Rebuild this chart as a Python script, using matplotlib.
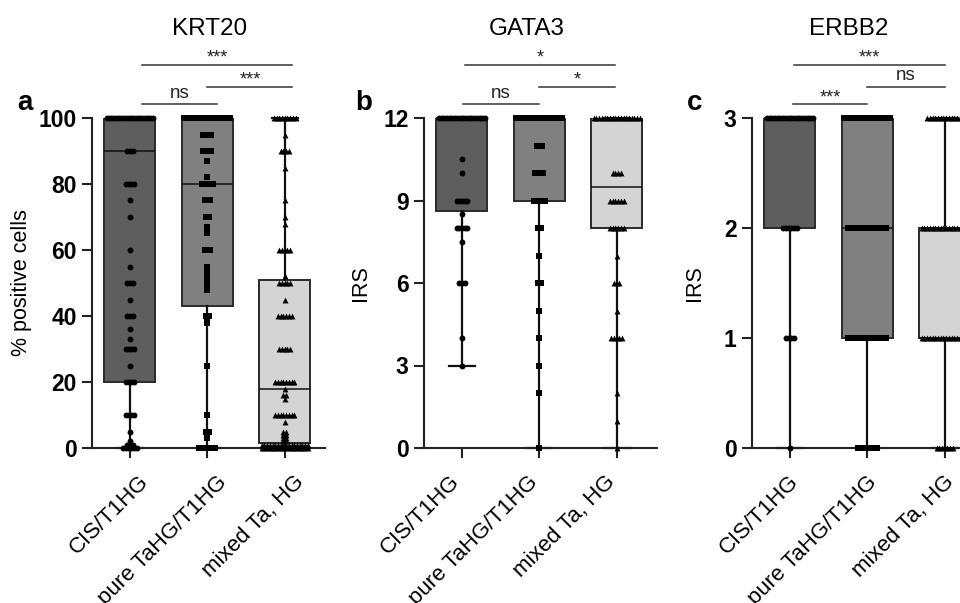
import numpy as np
import matplotlib
matplotlib.use("Agg")
import matplotlib.pyplot as plt
from matplotlib.transforms import ScaledTranslation

plt.rcParams['font.family'] = ['Liberation Sans', 'DejaVu Sans']

groups = ['CIS/T1HG', 'pure TaHG/T1HG', 'mixed Ta, HG']
box_colors = ['#5e5e5e', '#808080', '#d4d4d4']
markers = ['o', 's', '^']

# KRT20 - % positive cells
krt20_q1 = [20, 43, 1.5]
krt20_med = [90, 80, 18]
krt20_q3 = [100, 100, 51]
krt20_lo = [0, 0, 0]
krt20_hi = [100, 100, 100]
krt20_vals = [
    [100, 90, 80, 75, 70, 60, 55, 50, 45, 40, 36, 33, 30, 25, 20, 10, 5, 2, 1, 0],
    [100, 95, 90, 87, 82, 80, 75, 70, 67, 65, 60, 55, 53, 52, 51, 50, 49, 48,
     40, 39, 38, 25, 10, 5, 3, 0],
    [100, 95, 90, 85, 75, 70, 68, 60, 52, 50, 45, 40, 30, 20, 18, 16, 15, 10,
     8, 5, 4, 3, 2, 1, 0],
]
krt20_counts = [
    [18, 3, 4, 1, 1, 1, 1, 3, 1, 3, 1, 1, 4, 1, 4, 4, 1, 1, 3, 6],
    [18, 4, 4, 1, 1, 5, 3, 2, 1, 1, 3, 1, 1, 1, 1, 1, 1, 1, 2, 1, 1, 1, 1, 2, 1, 7],
    [9, 1, 4, 1, 1, 1, 1, 5, 1, 5, 1, 6, 5, 8, 1, 2, 1, 8, 1, 2, 2, 2, 2, 18, 18],
]

# GATA3 - IRS
gata3_q1 = [8.63, 9, 8]
gata3_med = [12, 12, 9.5]
gata3_q3 = [12, 12, 12]
gata3_lo = [3, 0, 0]
gata3_hi = [12, 12, 12]
gata3_vals = [
    [12, 10.5, 10, 9, 8.5, 8, 7.5, 6, 4, 3],
    [12, 11, 10, 9, 8, 7, 6, 5, 4, 3, 2, 0],
    [12, 10, 9, 8, 7, 6, 5, 4, 2, 1, 0],
]
gata3_counts = [
    [18, 1, 1, 5, 1, 5, 1, 3, 1, 1],
    [18, 3, 4, 5, 2, 1, 2, 1, 1, 1, 1, 1],
    [18, 4, 6, 6, 1, 3, 1, 5, 1, 1, 1],
]

# ERBB2 - IRS
erbb2_q1 = [2, 1, 1]
erbb2_med = [3, 2, 1]
erbb2_q3 = [3, 3, 2]
erbb2_lo = [0, 0, 0]
erbb2_hi = [3, 3, 3]
erbb2_vals = [[3, 2, 1, 0], [3, 2, 1, 0], [3, 2, 1, 0]]
erbb2_counts = [[18, 6, 4, 1], [18, 15, 15, 8], [14, 18, 18, 7]]

titles = ['KRT20', 'GATA3', 'ERBB2']
letters = ['a', 'b', 'c']
ylabels = ['% positive cells', 'IRS', 'IRS']
yticks = [[0, 20, 40, 60, 80, 100], [0, 3, 6, 9, 12], [0, 1, 2, 3]]

# significance: (x0, x1, level, text)
sig = [
    [(0.16, 1.13, 0, 'ns'), (1.0, 2.1, 1, '***'), (0.16, 2.1, 2, '***')],
    [(0.02, 0.99, 0, 'ns'), (1.0, 1.98, 1, '*'), (0.04, 1.98, 2, '*')],
    [(0.04, 1.0, 0, '***'), (1.0, 2.0, 1, 'ns'), (0.05, 2.0, 2, '***')],
]

panels = [
    (krt20_q1, krt20_med, krt20_q3, krt20_lo, krt20_hi, krt20_vals, krt20_counts),
    (gata3_q1, gata3_med, gata3_q3, gata3_lo, gata3_hi, gata3_vals, gata3_counts),
    (erbb2_q1, erbb2_med, erbb2_q3, erbb2_lo, erbb2_hi, erbb2_vals, erbb2_counts),
]

W, H = 960, 603
fig = plt.figure(figsize=(9.6, 6.03), dpi=100)

ax_left = [92, 424, 752]
ax_w, ax_top, ax_bot = 233, 118, 448
title_x = [210, 527, 849]
letter_x = [17, 355, 687]
ylabel_x = [22, 360, 695]
lab_dx = [16, -5, 6]   # px shift of rotated group labels
lab_dy = -31

for i, (q1, med, q3, lo, hi, vals, counts) in enumerate(panels):
    ax = fig.add_axes([ax_left[i] / W, 1 - ax_bot / H, ax_w / W, (ax_bot - ax_top) / H])
    stats = [dict(q1=q1[k], med=med[k], q3=q3[k], whislo=lo[k], whishi=hi[k],
                  fliers=[]) for k in range(3)]
    bp = ax.bxp(stats, positions=[0, 1, 2], widths=0.66, capwidths=0.33,
                patch_artist=True, showfliers=False,
                boxprops=dict(edgecolor='#2a2a2a', linewidth=1.4),
                medianprops=dict(color='#111111', linewidth=1.1),
                whiskerprops=dict(color='#111111', linewidth=1.6),
                capprops=dict(color='#111111', linewidth=1.6))
    for patch, c in zip(bp['boxes'], box_colors):
        patch.set_facecolor(c)
    for line in bp['whiskers'] + bp['caps'] + bp['medians']:
        line.set_clip_on(False)

    # scatter points, spread horizontally like a dot plot
    step = 0.035
    for k in range(3):
        xs, ys = [], []
        for v, n in zip(vals[k], counts[k]):
            off = (np.arange(n) - (n - 1) / 2) * step
            xs.extend(k + off)
            ys.extend([v] * n)
        ax.scatter(xs, ys, marker=markers[k], s=18, color='black',
                   linewidths=0, zorder=5, clip_on=False)

    ymax = yticks[i][-1]
    ax.set_ylim(0, ymax)
    ax.set_xlim(-0.49, 2.52)
    ax.set_yticks(yticks[i])
    ax.set_yticklabels([str(t) for t in yticks[i]], fontsize=16.5, fontweight='bold')
    ax.set_xticks([0, 1, 2])
    ax.set_xticklabels([])
    off = ScaledTranslation(lab_dx[i] / 100, lab_dy / 100, fig.dpi_scale_trans)
    for k, g in enumerate(groups):
        ax.text(k, 0, g, transform=ax.get_xaxis_transform() + off, fontsize=16,
                rotation=45, ha='right', va='center', rotation_mode='anchor')
    ax.tick_params(axis='both', length=7, width=1.5, color='#222222', pad=4)
    for s in ['top', 'right']:
        ax.spines[s].set_visible(False)
    for s in ['left', 'bottom']:
        ax.spines[s].set_linewidth(1.5)
        ax.spines[s].set_color('#222222')

    tr = ax.get_xaxis_transform()
    line_y = [1.042, 1.094, 1.161]
    for x0, x1, lev, txt in sig[i]:
        ax.plot([x0, x1], [line_y[lev], line_y[lev]], transform=tr, color='#333333',
                lw=1.1, clip_on=False)
        if txt == 'ns':
            ax.text((x0 + x1) / 2, line_y[lev] + 0.008, txt, transform=tr,
                    ha='center', va='bottom', fontsize=13.5, color='#222222')
        else:
            ax.text((x0 + x1) / 2, line_y[lev] - 0.006, txt, transform=tr,
                    ha='center', va='bottom', fontsize=13, color='#222222')

    fig.text(title_x[i] / W, 1 - 35 / H, titles[i], ha='center', va='baseline',
             fontsize=17.5)
    fig.text(letter_x[i] / W, 1 - 110 / H, letters[i], ha='left', va='baseline',
             fontsize=20, fontweight='bold')
    fig.text(ylabel_x[i] / W, 1 - 283 / H, ylabels[i], ha='center', va='center',
             rotation=90, fontsize=15.5)

fig.savefig('out.png', dpi=100)
